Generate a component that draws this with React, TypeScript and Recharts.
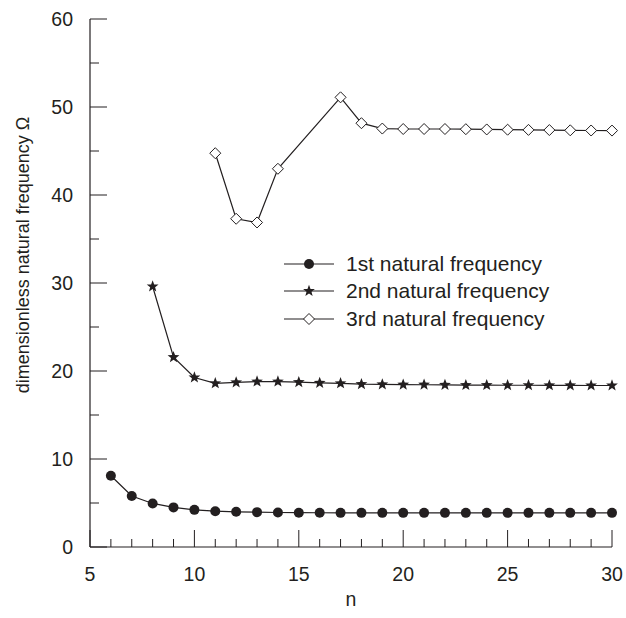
import React from "react";
import { LineChart, Line, XAxis, YAxis, Legend } from "recharts";

// n = 6 .. 30
const nValues = [
  6, 7, 8, 9, 10, 11, 12, 13, 14, 15, 16, 17, 18, 19, 20, 21, 22, 23, 24, 25,
  26, 27, 28, 29, 30,
];
const firstFreq = [
  8.1, 5.8, 4.95, 4.5, 4.22, 4.07, 4.0, 3.96, 3.92, 3.9, 3.89, 3.88, 3.88,
  3.88, 3.88, 3.88, 3.88, 3.88, 3.88, 3.88, 3.88, 3.88, 3.88, 3.88, 3.88,
];
const secondFreq = [
  null, null, 29.6, 21.57, 19.26, 18.6, 18.7, 18.8, 18.8, 18.73, 18.65, 18.6,
  18.5, 18.47, 18.45, 18.44, 18.42, 18.4, 18.4, 18.38, 18.38, 18.37, 18.36,
  18.35, 18.35,
];
const thirdFreq = [
  null, null, null, null, null, 44.75, 37.3, 36.88, 42.98, null, null, 51.1,
  48.16, 47.55, 47.5, 47.5, 47.5, 47.48, 47.45, 47.42, 47.4, 47.38, 47.35,
  47.33, 47.32,
];
const seriesNames = [
  "1st natural frequency",
  "2nd natural frequency",
  "3rd natural frequency",
];
const xTicks = [
  5, 6, 7, 8, 9, 10, 11, 12, 13, 14, 15, 16, 17, 18, 19, 20, 21, 22, 23, 24,
  25, 26, 27, 28, 29, 30,
];
const yTicks = [0, 5, 10, 15, 20, 25, 30, 35, 40, 45, 50, 55, 60];

const data = nValues.map((n, i) => ({
  n,
  first: firstFreq[i],
  second: secondFreq[i],
  third: thirdFreq[i],
}));

const INK = "#231f20";
const FONT = "'Liberation Sans', Arial, sans-serif";

const starPoints = (cx: number, cy: number, R: number, r: number) => {
  const pts: string[] = [];
  for (let k = 0; k < 10; k++) {
    const rad = k % 2 === 0 ? R : r;
    const a = -Math.PI / 2 + (k * Math.PI) / 5;
    pts.push(`${cx + rad * Math.cos(a)},${cy + rad * Math.sin(a)}`);
  }
  return pts.join(" ");
};

const shapes: Record<string, (cx: number, cy: number, key?: string) => React.ReactElement> = {
  first: (cx, cy, key) => <circle key={key} cx={cx} cy={cy} r={5} fill={INK} />,
  second: (cx, cy, key) => (
    <polygon key={key} points={starPoints(cx, cy, 6.2, 2.6)} fill={INK} />
  ),
  third: (cx, cy, key) => (
    <polygon
      key={key}
      points={`${cx},${cy - 5.5} ${cx + 5.5},${cy} ${cx},${cy + 5.5} ${cx - 5.5},${cy}`}
      fill="#fff"
      stroke={INK}
      strokeWidth={1}
    />
  ),
};

const makeDot = (series: string) => (props: any) => {
  const { cx, cy, value, index } = props;
  if (cx == null || cy == null || value == null)
    return <g key={`${series}-${index}`} />;
  return shapes[series](cx, cy, `${series}-${index}`);
};

const XTick = (props: any) => {
  const { x, y, payload } = props;
  const major = payload.value % 5 === 0;
  return (
    <g>
      <line x1={x} y1={y} x2={x} y2={y - (major ? 17 : 8)} stroke={INK} />
      {major && (
        <text
          x={x}
          y={y + 27}
          dy="0.355em"
          textAnchor="middle"
          fill={INK}
          fontSize={19.5}
          fontFamily={FONT}
        >
          {payload.value}
        </text>
      )}
    </g>
  );
};

const YTick = (props: any) => {
  const { x, y, payload } = props;
  const major = payload.value % 10 === 0;
  return (
    <g>
      <line x1={x} y1={y} x2={x + (major ? 17 : 9)} y2={y} stroke={INK} />
      {major && (
        <text
          x={x - 17}
          y={y}
          dy="0.355em"
          textAnchor="end"
          fill={INK}
          fontSize={19.5}
          fontFamily={FONT}
        >
          {payload.value}
        </text>
      )}
    </g>
  );
};

const YLabel = ({ viewBox }: any) => {
  const cx = viewBox.x + 23;
  const cy = viewBox.y + viewBox.height / 2 - 28;
  return (
    <text
      x={cx}
      y={cy}
      transform={`rotate(-90 ${cx} ${cy})`}
      textAnchor="middle"
      dominantBaseline="central"
      fill={INK}
      fontSize={18}
      fontFamily={FONT}
    >
      dimensionless natural frequency Ω
    </text>
  );
};

const LegendBox = ({ payload }: any) => (
  <div style={{ fontFamily: FONT, fontSize: 21, color: INK }}>
    {(payload || []).map((entry: any) => (
      <div
        key={entry.dataKey}
        style={{ display: "flex", alignItems: "center", height: 27.5 }}
      >
        <svg width={50} height={20}>
          <line x1={0} y1={10} x2={50} y2={10} stroke={INK} strokeWidth={1.2} />
          {shapes[entry.dataKey](25, 10)}
        </svg>
        <span style={{ marginLeft: 12, whiteSpace: "nowrap" }}>{entry.value}</span>
      </div>
    ))}
  </div>
);

export default function App() {
  return (
    <div style={{ position: "absolute", left: 0, top: 0, background: "#fff" }}>
      <LineChart
        width={626}
        height={618}
        data={data}
        margin={{ top: 19, right: 14, bottom: 0, left: 0 }}
      >
        <XAxis
          dataKey="n"
          type="number"
          domain={[5, 30]}
          ticks={xTicks}
          interval={0}
          height={71}
          tickSize={0}
          tickMargin={0}
          tickLine={false}
          tick={<XTick />}
          axisLine={{ stroke: INK, strokeWidth: 1.2 }}
          label={{
            value: "n",
            position: "insideBottom",
            offset: 12,
            fill: INK,
            fontSize: 19.5,
            fontFamily: FONT,
          }}
        />
        <YAxis
          type="number"
          domain={[0, 60]}
          ticks={yTicks}
          interval={0}
          width={90}
          tickSize={0}
          tickMargin={0}
          tickLine={false}
          tick={<YTick />}
          axisLine={{ stroke: INK, strokeWidth: 1.2 }}
          label={<YLabel />}
        />
        <Legend
          layout="vertical"
          align="center"
          verticalAlign="middle"
          wrapperStyle={{ left: 284, top: 250, width: 330 }}
          content={<LegendBox />}
        />
        <Line
          dataKey="first"
          name={seriesNames[0]}
          stroke={INK}
          strokeWidth={1.2}
          dot={makeDot("first")}
          activeDot={false}
          isAnimationActive={false}
        />
        <Line
          dataKey="second"
          name={seriesNames[1]}
          stroke={INK}
          strokeWidth={1.2}
          dot={makeDot("second")}
          activeDot={false}
          isAnimationActive={false}
        />
        <Line
          dataKey="third"
          name={seriesNames[2]}
          stroke={INK}
          strokeWidth={1.2}
          dot={makeDot("third")}
          activeDot={false}
          connectNulls
          isAnimationActive={false}
        />
      </LineChart>
    </div>
  );
}
